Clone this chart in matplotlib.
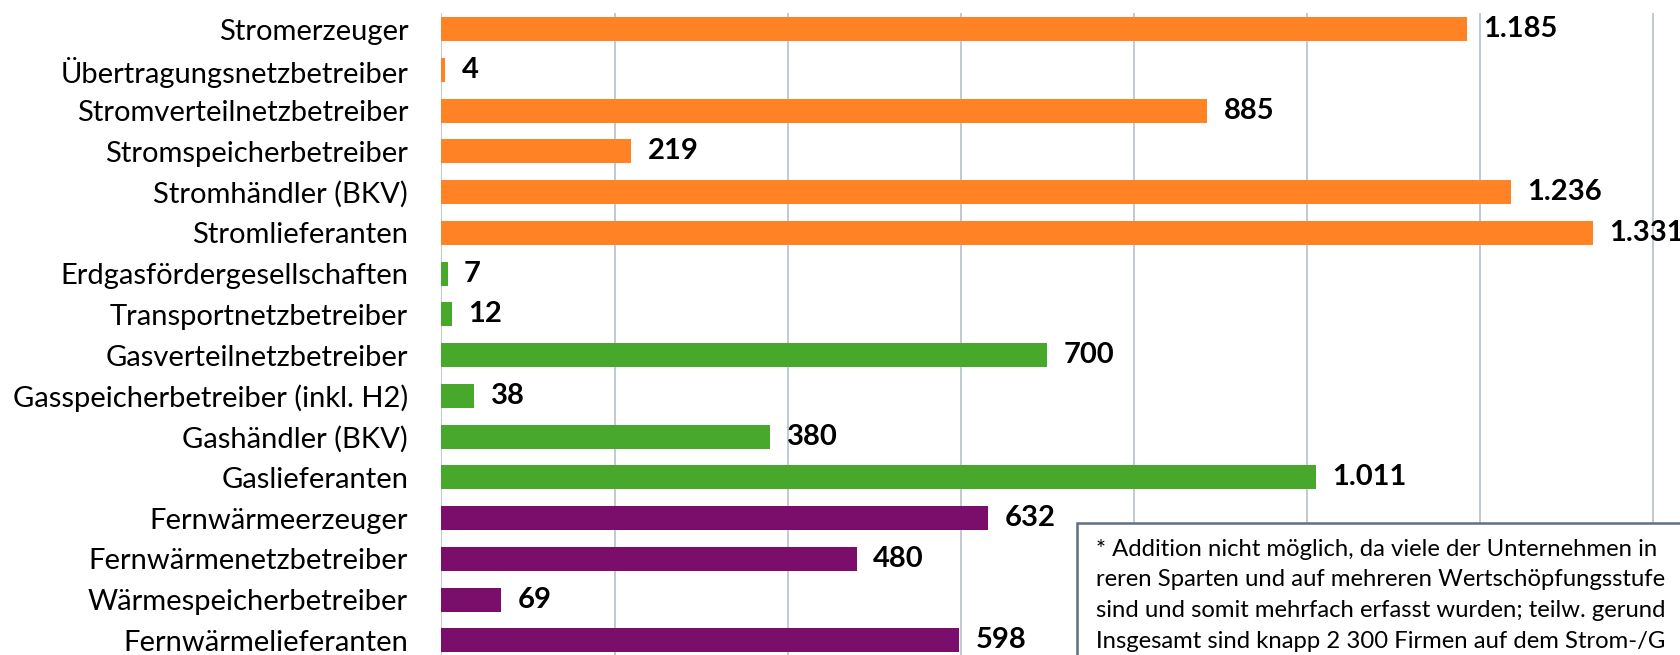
import matplotlib.pyplot as plt
from matplotlib.patches import Rectangle

categories = [
    "Stromerzeuger", "Übertragungsnetzbetreiber", "Stromverteilnetzbetreiber",
    "Stromspeicherbetreiber", "Stromhändler (BKV)", "Stromlieferanten",
    "Erdgasfördergesellschaften", "Transportnetzbetreiber", "Gasverteilnetzbetreiber",
    "Gasspeicherbetreiber (inkl. H2)", "Gashändler (BKV)", "Gaslieferanten",
    "Fernwärmeerzeuger", "Fernwärmenetzbetreiber", "Wärmespeicherbetreiber",
    "Fernwärmelieferanten",
]
values = [1185, 4, 885, 219, 1236, 1331, 7, 12, 700, 38, 380, 1011, 632, 480, 69, 598]
groups = ["strom"] * 6 + ["gas"] * 6 + ["waerme"] * 4
value_labels = ["1.185", "4", "885", "219", "1.236", "1.331", "7", "12", "700", "38",
                "380", "1.011", "632", "480", "69", "598"]
# im Original am Bildrand abgeschnitten
note_lines = [
    "* Addition nicht möglich, da viele der Unternehmen in",
    "reren Sparten und auf mehreren Wertschöpfungsstufe",
    "sind und somit mehrfach erfasst wurden; teilw. gerund",
    "Insgesamt sind knapp 2 300 Firmen auf dem Strom-/G",
]

colors = {"strom": "#FF8225", "gas": "#47A82B", "waerme": "#7B0E6A"}

W, H = 1681, 655
fig = plt.figure(figsize=(W / 100, H / 100), dpi=100, facecolor="white")
plt.rcParams['font.family'] = ['Lato', 'DejaVu Sans']

left_px, top_px, bottom_px = 441.5, 12.5, 660.8
ax = fig.add_axes([left_px / W, 1 - bottom_px / H, 1 - left_px / W, (bottom_px - top_px) / H])

y = list(range(len(categories)))
ax.barh(y, values, height=0.59, color=[colors[g] for g in groups], zorder=3)
for yi, v, lab in zip(y, values, value_labels):
    ax.text(v + 19, yi, lab, va="center", ha="left", fontsize=21,
            fontweight="bold", color="black", zorder=4)

ax.set_xticks(range(0, 1601, 200))
ax.set_xlim(0, (W - left_px) / 0.8651)
ax.set_ylim(len(categories) - 0.5, -0.41)
ax.xaxis.grid(True, color="#BCC6D0", linewidth=1.3, zorder=0)
ax.set_yticks(y)
ax.set_yticklabels(categories, fontsize=21)
ax.tick_params(axis="y", length=0, pad=24)
ax.tick_params(axis="x", length=0, labelbottom=False)
for s in ax.spines.values():
    s.set_visible(False)

# Fußnote im Kasten
box_x, box_y = 1077, 523
fig.patches.append(Rectangle((box_x / W, -0.01), 1, 1.01 - box_y / H, transform=fig.transFigure,
                             facecolor="white", edgecolor="#5F6F80", linewidth=1.8, zorder=5))
for i, line in enumerate(note_lines):
    fig.text(1096 / W, 1 - (556 + i * 30.5) / H, line, fontsize=17.2,
             va="baseline", ha="left", color="black", zorder=6)

fig.savefig("out.png", dpi=100, facecolor="white")
